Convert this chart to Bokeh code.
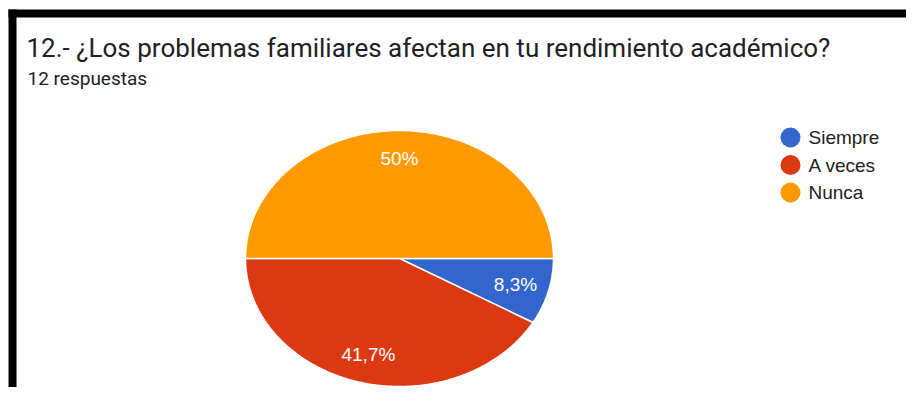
import numpy as np
from bokeh.plotting import figure
from bokeh.models import Range1d, BoxAnnotation
from bokeh.core.properties import value
from bokeh.embed import file_html
from bokeh.resources import INLINE

# ---- data ----
title_text = "12.- ¿Los problemas familiares afectan en tu rendimiento académico?"
subtitle_text = "12 respuestas"
categories = ["Siempre", "A veces", "Nunca"]
counts = [1, 5, 6]
colors = ["#3366CC", "#DC3912", "#FF9900"]

# ---- figure (coordinates = canvas pixels, y downward) ----
W, H = 906, 387
p = figure(width=W, height=H, output_backend="svg", toolbar_location=None,
           x_range=Range1d(0, W), y_range=Range1d(H, 0),
           x_axis_location=None, y_axis_location=None,
           min_border=0, border_fill_color="white",
           background_fill_color="white", outline_line_color=None)
p.grid.visible = False

# black frame of the screenshot (top and left edges)
p.add_layout(BoxAnnotation(left=8, right=W, top=9, bottom=17,
                           fill_color="black", fill_alpha=1, line_color=None))
p.add_layout(BoxAnnotation(left=8, right=16, top=9, bottom=H,
                           fill_color="black", fill_alpha=1, line_color=None))

# ---- pie (elliptical, starts at 3 o'clock, clockwise) ----
cx, cy, rx, ry = 399, 258, 154, 128
total = float(sum(counts))
fracs = np.array(counts) / total
ends = np.cumsum(fracs) * 2 * np.pi
starts = ends - fracs * 2 * np.pi

xs, ys = [], []
for a0, a1 in zip(starts, ends):
    t = np.linspace(a0, a1, 200)
    xs.append(np.concatenate([[cx], cx + rx * np.cos(t), [cx]]))
    ys.append(np.concatenate([[cy], cy + ry * np.sin(t), [cy]]))

p.patches(xs=xs, ys=ys, fill_color=colors, line_color="white", line_width=1.5)

# slice labels
mids = (starts + ends) / 2
lab_x = cx + 0.78 * rx * np.cos(mids)
lab_y = cy + 0.78 * ry * np.sin(mids)
def fmt(f):
    s = f"{f*100:.1f}"
    if s.endswith(".0"):
        s = s[:-2]
    return s.replace(".", ",") + "%"
labels = [fmt(f) for f in fracs]
p.text(x=lab_x, y=lab_y, text=labels, text_color="white",
       text_font=value("Liberation Sans"), text_font_size=value("19px"),
       text_align="center", text_baseline="middle")

# ---- title / subtitle ----
p.text(x=[26], y=[47], text=[title_text], text_color="#202124",
       text_font=value("Roboto"), text_font_size=value("26px"),
       text_align="left", text_baseline="alphabetic")
p.text(x=[27], y=[78], text=[subtitle_text], text_color="#202124",
       text_font=value("Roboto"), text_font_size=value("19px"),
       text_align="left", text_baseline="alphabetic")

# ---- legend ----
leg_y = [137 + 27.5 * i for i in range(len(categories))]
p.scatter(x=[790] * len(categories), y=leg_y, size=20, marker="circle",
          fill_color=colors, line_color=None)
p.text(x=[808] * len(categories), y=leg_y, text=categories, text_color="#222222",
       text_font=value("Liberation Sans"), text_font_size=value("19px"),
       text_align="left", text_baseline="middle")

open("out.html", "w").write(file_html(p, INLINE))
